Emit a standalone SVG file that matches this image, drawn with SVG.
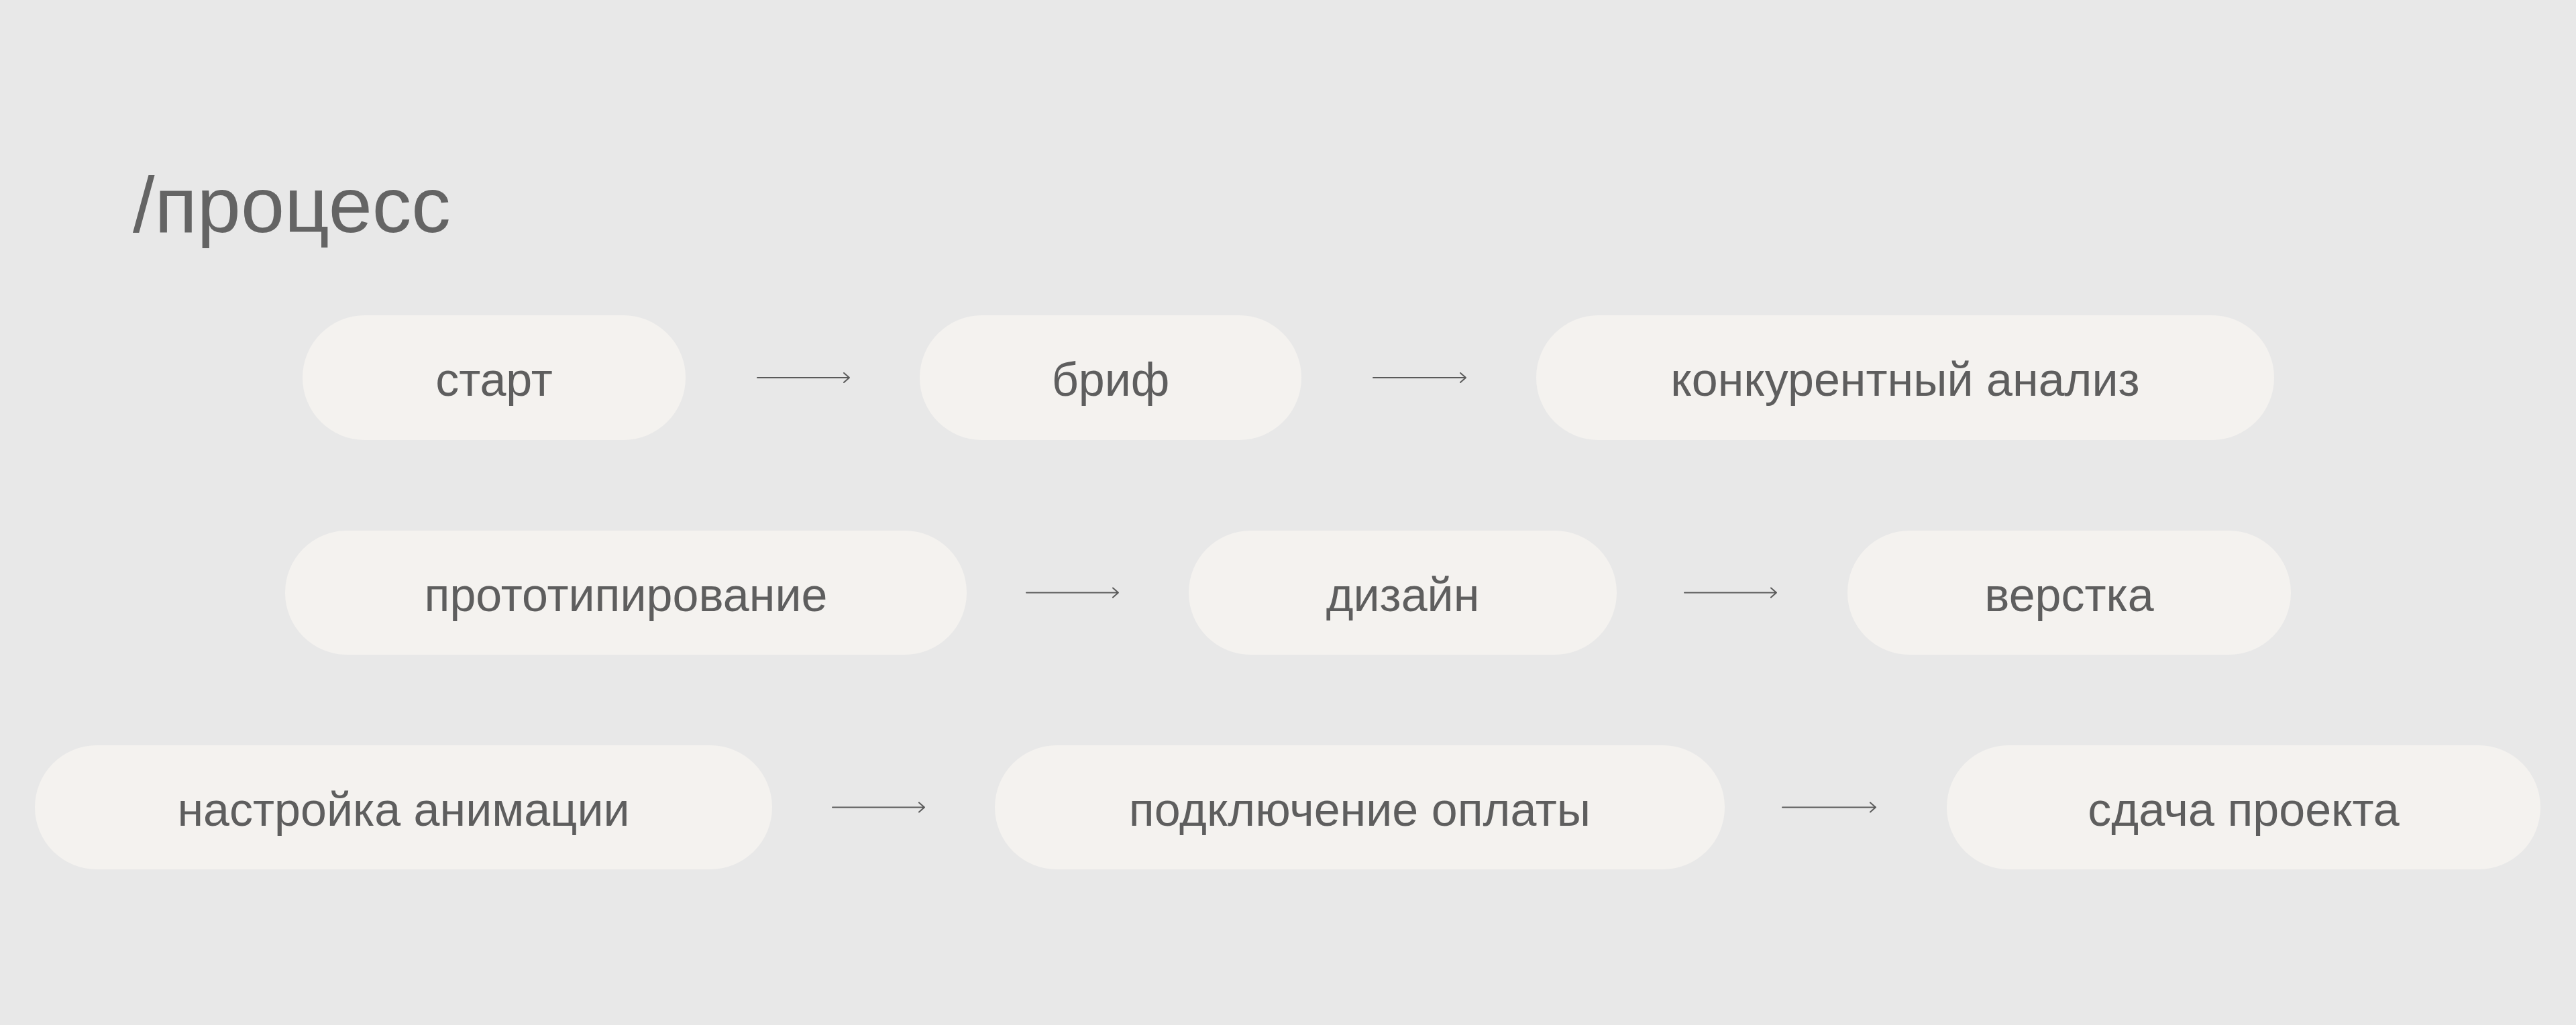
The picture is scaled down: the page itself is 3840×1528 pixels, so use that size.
<svg xmlns="http://www.w3.org/2000/svg" width="3840" height="1528" viewBox="0 0 3840 1528">
<style>
.pill{fill:#f4f2ef}
.lbl{font-family:"Liberation Sans",Arial,sans-serif;font-size:70px;fill:#5e5e5e;text-anchor:middle}
.title{font-family:"Liberation Sans",Arial,sans-serif;font-size:117px;fill:#646464}
.arr{stroke:#5a5a5a;stroke-width:2;fill:none;stroke-linecap:round;stroke-linejoin:round}
</style>
<rect x="0" y="0" width="3840" height="1528" fill="#e8e8e8"/>
<text class="title" x="198" y="346">/процесс</text>
<g id="n1"><rect class="pill" x="451" y="470" width="571" height="186" rx="93"/><text class="lbl" x="736.5" y="590">старт</text></g>
<g id="n2"><rect class="pill" x="1371" y="470" width="569" height="186" rx="93"/><text class="lbl" x="1655.5" y="590">бриф</text></g>
<g id="n3"><rect class="pill" x="2290" y="470" width="1100" height="186" rx="93"/><text class="lbl" x="2840" y="590">конкурентный анализ</text></g>
<g id="n4"><rect class="pill" x="425" y="791" width="1016" height="185" rx="92.5"/><text class="lbl" x="933" y="911">прототипирование</text></g>
<g id="n5"><rect class="pill" x="1772" y="791" width="638" height="185" rx="92.5"/><text class="lbl" x="2091" y="911">дизайн</text></g>
<g id="n6"><rect class="pill" x="2754" y="791" width="661" height="185" rx="92.5"/><text class="lbl" x="3084.5" y="911">верстка</text></g>
<g id="n7"><rect class="pill" x="52" y="1111" width="1099" height="185" rx="92.5"/><text class="lbl" x="601.5" y="1231">настройка анимации</text></g>
<g id="n8"><rect class="pill" x="1483" y="1111" width="1088" height="185" rx="92.5"/><text class="lbl" x="2027" y="1231">подключение оплаты</text></g>
<g id="n9"><rect class="pill" x="2902" y="1111" width="885" height="185" rx="92.5"/><text class="lbl" x="3344.5" y="1231">сдача проекта</text></g>
<g id="connectors" class="arr">
<path d="M1129 563H1266M1258 556L1266 563L1258 570"/>
<path d="M2047 563H2185M2177 556L2185 563L2177 570"/>
<path d="M1530 883.5H1667M1659 876.5L1667 883.5L1659 890.5"/>
<path d="M2511 883.5H2648M2640 876.5L2648 883.5L2640 890.5"/>
<path d="M1241 1203.5H1378M1370 1196.5L1378 1203.5L1370 1210.5"/>
<path d="M2657 1203.5H2796M2788 1196.5L2796 1203.5L2788 1210.5"/>
</g>
</svg>
